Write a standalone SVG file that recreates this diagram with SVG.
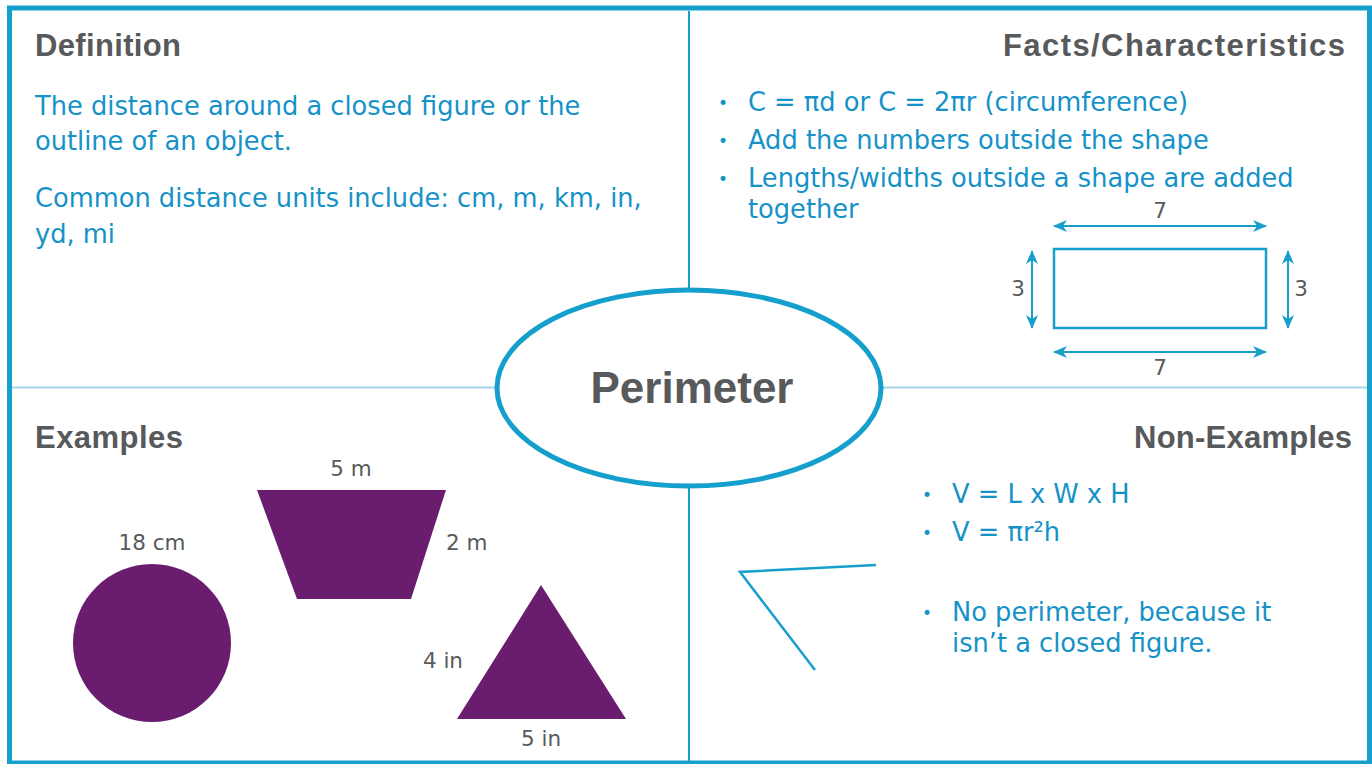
<svg xmlns="http://www.w3.org/2000/svg" width="1372" height="764" viewBox="0 0 1372 764">
<style>
.head{font-family:"Liberation Sans",Arial,sans-serif;font-weight:bold;font-size:31px;fill:#58595b}
.body{font-family:"DejaVu Sans","Liberation Sans",sans-serif;font-size:25.7px;fill:#1592c7}
.bul{font-family:"DejaVu Sans",sans-serif;font-size:17px;fill:#1592c7}
.lbl{font-family:"DejaVu Sans","Liberation Sans",sans-serif;font-size:21.5px;fill:#58595b}
.shape{fill:#6a1d6e}
.dim{stroke:#159fcc;stroke-width:2;fill:none;marker-start:url(#ah);marker-end:url(#ah)}
</style>
<defs>
<marker id="ah" viewBox="0 0 14 12" refX="13" refY="6" markerWidth="14" markerHeight="12" markerUnits="userSpaceOnUse" orient="auto-start-reverse">
<path d="M0,0 L14,6 L0,12 L4,6 z" fill="#159fcc"/>
</marker>
</defs>
<rect x="0" y="0" width="1372" height="764" fill="#ffffff"/>
<g id="frame">
<line x1="12" y1="387.5" x2="1367" y2="387.5" stroke="#a5d5ea" stroke-width="2"/>
<line x1="689" y1="11" x2="689" y2="762" stroke="#159fcc" stroke-width="2"/>
<rect x="9.5" y="8" width="1360" height="755" fill="none" stroke="#159fcc" stroke-width="5"/>
</g>
<g id="definition">
<text class="head" x="35" y="56" textLength="146">Definition</text>
<text class="body" x="35" y="115">The distance around a closed figure or the</text>
<text class="body" x="35" y="150">outline of an object.</text>
<text class="body" x="35" y="207">Common distance units include: cm, m, km, in,</text>
<text class="body" x="35" y="243">yd, mi</text>
</g>
<g id="facts">
<text class="head" x="1003" y="56" textLength="342">Facts/Characteristics</text>
<text class="bul" x="718" y="109">•</text>
<text class="body" x="748" y="111">C = πd or C = 2πr (circumference)</text>
<text class="bul" x="718" y="147">•</text>
<text class="body" x="748" y="149">Add the numbers outside the shape</text>
<text class="bul" x="718" y="185">•</text>
<text class="body" x="748" y="187">Lengths/widths outside a shape are added</text>
<text class="body" x="748" y="218">together</text>
<rect x="1054" y="249" width="212" height="79" fill="none" stroke="#159fcc" stroke-width="2.5"/>
<line class="dim" x1="1054" y1="226" x2="1266" y2="226"/>
<line class="dim" x1="1054" y1="352" x2="1266" y2="352"/>
<line class="dim" x1="1032" y1="251" x2="1032" y2="328"/>
<line class="dim" x1="1288" y1="251" x2="1288" y2="328"/>
<text class="lbl" x="1160" y="218" text-anchor="middle">7</text>
<text class="lbl" x="1160" y="375" text-anchor="middle">7</text>
<text class="lbl" x="1018" y="296" text-anchor="middle">3</text>
<text class="lbl" x="1301" y="296" text-anchor="middle">3</text>
</g>
<g id="examples">
<text class="head" x="35" y="448" textLength="148">Examples</text>
<circle class="shape" cx="152" cy="643" r="79"/>
<text class="lbl" x="152" y="550" text-anchor="middle">18 cm</text>
<polygon class="shape" points="257,490 446,490 411,599 297,599"/>
<text class="lbl" x="351" y="476" text-anchor="middle">5 m</text>
<text class="lbl" x="446" y="550">2 m</text>
<polygon class="shape" points="541,585 626,719 457,719"/>
<text class="lbl" x="463" y="668" text-anchor="end">4 in</text>
<text class="lbl" x="541" y="746" text-anchor="middle">5 in</text>
</g>
<g id="nonexamples">
<text class="head" x="1134" y="448" textLength="218">Non-Examples</text>
<text class="bul" x="922" y="501">•</text>
<text class="body" x="952" y="503">V = L x W x H</text>
<text class="bul" x="922" y="539">•</text>
<text class="body" x="952" y="541">V = πr²h</text>
<text class="bul" x="922" y="619">•</text>
<text class="body" x="952" y="621">No perimeter, because it</text>
<text class="body" x="952" y="652">isn’t a closed figure.</text>
<polyline points="876,565 740,572 815,670" fill="none" stroke="#159fcc" stroke-width="2.5"/>
</g>
<g id="center">
<ellipse cx="689" cy="388" rx="192" ry="98" fill="#ffffff" stroke="#159fcc" stroke-width="5"/>
<text x="692" y="403" text-anchor="middle" font-family="Liberation Sans, Arial, sans-serif" font-weight="bold" font-size="44" fill="#58595b">Perimeter</text>
</g>
</svg>
